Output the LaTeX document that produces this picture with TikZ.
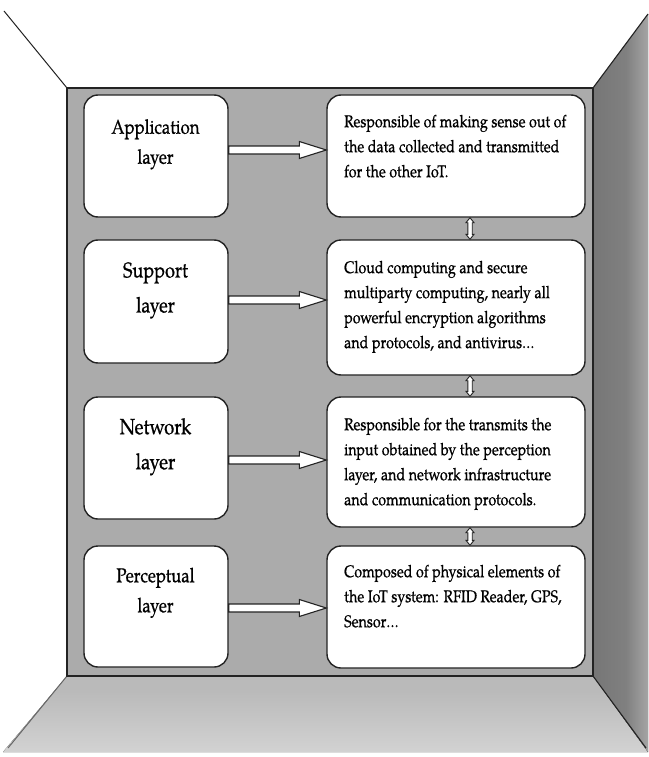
\documentclass[tikz,border=0pt]{standalone}
\usepackage{fontspec}
\setmainfont{texgyrepagella}[Extension=.otf, UprightFont=*-regular, BoldFont=*-bold, ItalicFont=*-italic, BoldItalicFont=*-bolditalic, FakeStretch=0.84, FakeBold=0.7]
\usetikzlibrary{calc}

\definecolor{panelgray}{RGB}{171,171,171}
\definecolor{floortop}{RGB}{186,186,186}
\definecolor{floorlow}{RGB}{212,212,212}
\definecolor{walldark}{RGB}{110,110,110}
\definecolor{wallmid}{RGB}{128,128,128}
\definecolor{walllight}{RGB}{210,210,210}
\definecolor{edgeline}{RGB}{35,35,35}

\pgfdeclareverticalshading{floorshade}{100bp}{color(0bp)=(white); color(22bp)=(floorlow); color(65bp)=(floortop); color(100bp)=(floortop)}
\pgfdeclarehorizontalshading{wallshade}{100bp}{color(0bp)=(walldark); color(55bp)=(wallmid); color(100bp)=(walllight)}

\tikzset{
  layerbox/.style={draw=edgeline, line width=1.4pt, fill=white, rounded corners=14pt,
    minimum width=144pt, inner sep=0pt},
  descbox/.style={draw=edgeline, line width=1.4pt, fill=white, rounded corners=14pt,
    minimum width=258pt, inner sep=0pt},
  layertext/.style={anchor=north, inner sep=0pt, align=center},
  desctext/.style={anchor=north west, inner sep=0pt, align=left,
    font=\fontsize{17}{25}\selectfont},
  hollow/.style={draw=edgeline, line width=1.1pt, fill=white, line join=miter},
}

% horizontal block arrow from the east side of #1 to the west side of #2, shifted by #3
\newcommand\blockarrowh[3]{%
  \draw[hollow] let \p1=($(#1.east)+(0,#3)$), \p2=(#2.west) in
    (\x1,\y1+4pt) -- (\x2-27pt,\y1+4pt) -- (\x2-27pt,\y1+8.5pt) -- (\x2,\y1)
    -- (\x2-27pt,\y1-8.5pt) -- (\x2-27pt,\y1-4pt) -- (\x1,\y1-4pt) -- cycle;}

% vertical double-headed block arrow between #1 (above) and #2 (below), shifted right by #3
\newcommand\blockarrowv[3]{%
  \draw[hollow, line width=0.9pt] let \p1=($(#1.south)+(#3,0)$), \p2=($(#2.north)+(#3,0)$) in
    (\x1,\y1) -- (\x1+4pt,\y1-5pt) -- (\x1+2.2pt,\y1-5pt) -- (\x1+2.2pt,\y2+5pt)
    -- (\x1+4pt,\y2+5pt) -- (\x1,\y2) -- (\x1-4pt,\y2+5pt) -- (\x1-2.2pt,\y2+5pt)
    -- (\x1-2.2pt,\y1-5pt) -- (\x1-4pt,\y1-5pt) -- cycle;}

\begin{document}
\begin{tikzpicture}[x=1pt, y=-1pt]
\useasboundingbox (0,0) rectangle (648,757);
\fill[white] (0,0) rectangle (648,757);

% floor
\fill[shading=floorshade] (67,676) -- (593,676) -- (648,752) -- (3,752) -- cycle;
% right wall
\fill[shading=wallshade] (593,88) -- (648,14) -- (648,752) -- (593,676) -- cycle;
\draw[edgeline, line width=1.1pt] (593,88) -- (648,14);
\draw[edgeline, line width=1.1pt] (593,676) -- (646,748);
% left edges of ceiling and floor
\draw[edgeline, line width=1pt] (67,88) -- (4,11);
\draw[black!60, line width=1pt] (67,676) -- (8,748);
% back panel
\draw[edgeline, line width=1.6pt, fill=panelgray] (67,88) rectangle (593,676);

% layer boxes
\node[layerbox, minimum height=122pt] (app) at (156,156) {};
\node[layerbox, minimum height=123pt] (sup) at (156,301.5) {};
\node[layerbox, minimum height=122pt] (net) at (156,458) {};
\node[layerbox, minimum height=121pt] (per) at (156,606.5) {};

\node[layertext, font=\fontsize{20}{30}\selectfont] (appT) at (155.5,119) {Application\\layer};
\node[layertext, font=\fontsize{21.5}{35}\selectfont] (supT) at (155.5,262) {Support\\layer};
\node[layertext, font=\fontsize{22}{35}\selectfont] (netT) at (155.5,418) {Network\\layer};
\node[layertext, font=\fontsize{20}{30}\selectfont] (perT) at (155.5,567.5) {Perceptual\\layer};

% description boxes
\node[descbox, minimum height=122pt] (d1) at (456,156) {};
\node[descbox, minimum height=135pt] (d2) at (456,307.5) {};
\node[descbox, minimum height=130pt] (d3) at (456,462) {};
\node[descbox, minimum height=122pt] (d4) at (456,607) {};

\node[desctext] (d1T) at (344,114.6) {Responsible of making sense out of\\the data collected and transmitted\\for the other IoT.};
\node[desctext] (d2T) at (344,260.6) {Cloud computing and secure\\multiparty computing, nearly all\\powerful encryption algorithms\\and protocols, and antivirus…};
\node[desctext] (d3T) at (344,417.6) {Responsible for the transmits the\\input obtained by the perception\\layer, and network infrastructure\\and communication protocols.};
\node[desctext] (d4T) at (344,564.6) {Composed of physical elements of\\the IoT system: RFID Reader, GPS,\\Sensor…};

% arrows
\blockarrowh{app}{d1}{6pt}
\blockarrowh{sup}{d2}{1.5pt}
\blockarrowh{net}{d3}{-2pt}
\blockarrowh{per}{d4}{-1.5pt}

\blockarrowv{d1}{d2}{14pt}
\blockarrowv{d2}{d3}{14pt}
\blockarrowv{d3}{d4}{14pt}
\end{tikzpicture}
\end{document}
